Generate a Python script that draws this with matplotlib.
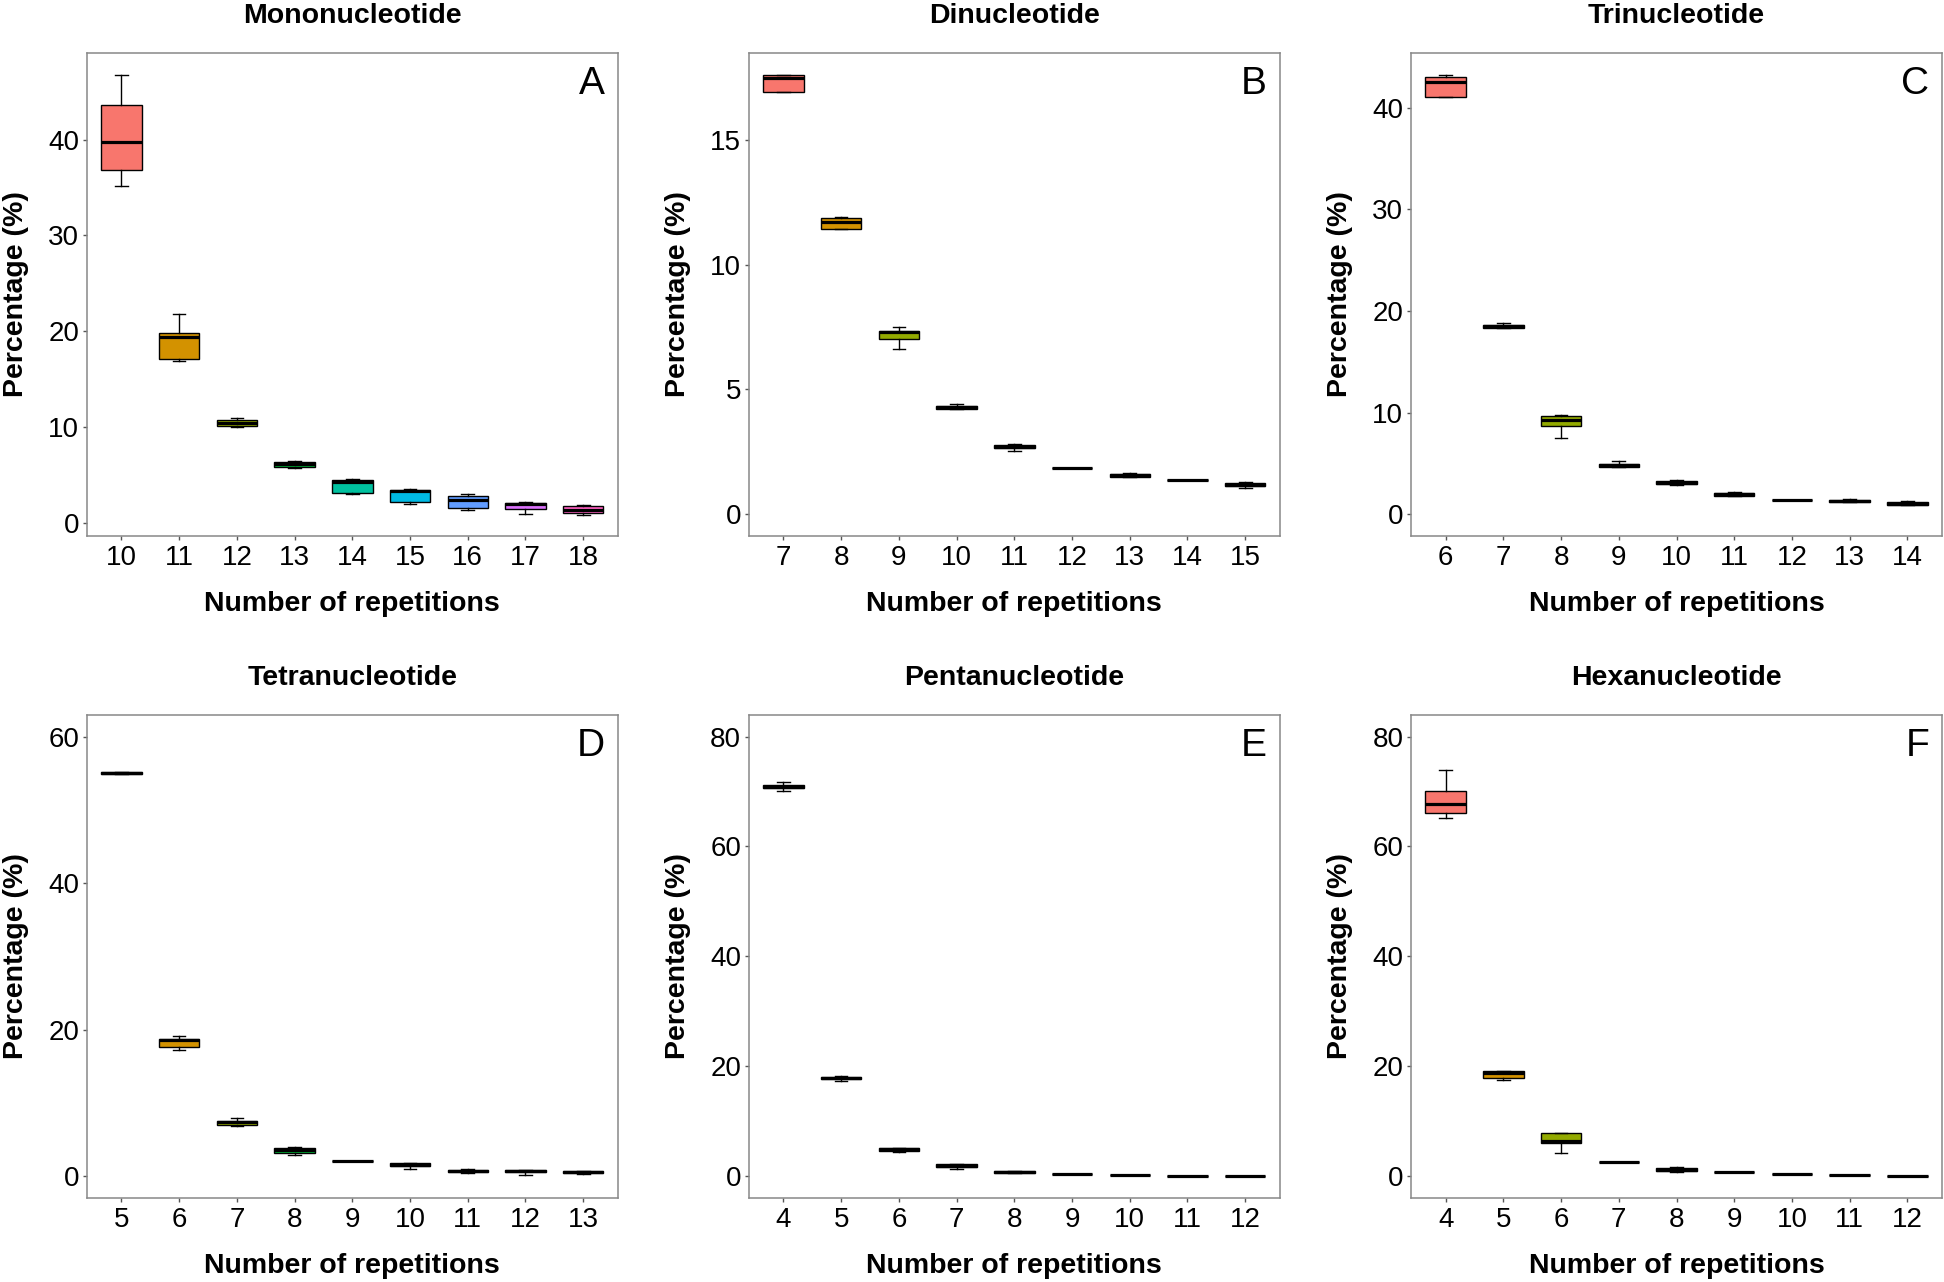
import matplotlib
matplotlib.use("Agg")
import matplotlib.pyplot as plt

plt.rcParams['font.family'] = ['Liberation Sans', 'DejaVu Sans']

# ggplot hue palette, 9 levels
box_colors = ["#F8766D", "#D39200", "#93AA00", "#00BA38", "#00C19F",
              "#00B9E3", "#619CFF", "#DB72FB", "#FF61C3"]

# A - Mononucleotide
mono_reps = [10, 11, 12, 13, 14, 15, 16, 17, 18]
mono_lo = [35.2, 16.9, 10.0, 5.8, 3.0, 2.0, 1.4, 1.0, 0.8]
mono_q1 = [36.8, 17.1, 10.1, 5.9, 3.1, 2.2, 1.6, 1.45, 1.1]
mono_med = [39.8, 19.4, 10.4, 6.15, 4.3, 3.4, 2.4, 1.95, 1.35]
mono_q3 = [43.6, 19.8, 10.8, 6.4, 4.5, 3.5, 2.8, 2.15, 1.75]
mono_hi = [46.7, 21.8, 11.0, 6.5, 4.65, 3.6, 3.0, 2.25, 1.85]

# B - Dinucleotide
di_reps = [7, 8, 9, 10, 11, 12, 13, 14, 15]
di_lo = [16.93, 11.46, 6.6, 4.21, 2.53, 1.83, 1.47, 1.34, 1.04]
di_q1 = [16.93, 11.46, 7.02, 4.21, 2.65, 1.83, 1.47, 1.34, 1.10]
di_med = [17.49, 11.74, 7.3, 4.28, 2.70, 1.83, 1.54, 1.34, 1.16]
di_q3 = [17.63, 11.89, 7.34, 4.33, 2.75, 1.83, 1.58, 1.34, 1.22]
di_hi = [17.63, 11.94, 7.5, 4.41, 2.82, 1.83, 1.62, 1.34, 1.26]

# C - Trinucleotide
tri_reps = [6, 7, 8, 9, 10, 11, 12, 13, 14]
tri_lo = [41.05, 18.3, 7.5, 4.62, 2.85, 1.8, 1.44, 1.18, 0.88]
tri_q1 = [41.05, 18.3, 8.64, 4.62, 2.98, 1.8, 1.44, 1.18, 0.88]
tri_med = [42.49, 18.5, 9.3, 4.84, 3.11, 1.96, 1.44, 1.34, 1.05]
tri_q3 = [43.04, 18.66, 9.66, 4.98, 3.24, 2.13, 1.44, 1.44, 1.18]
tri_hi = [43.24, 18.8, 9.72, 5.24, 3.34, 2.16, 1.44, 1.5, 1.31]

# D - Tetranucleotide
tetra_reps = [5, 6, 7, 8, 9, 10, 11, 12, 13]
tetra_lo = [54.85, 17.25, 6.88, 2.93, 2.02, 0.91, 0.40, 0.20, 0.30]
tetra_q1 = [54.9, 17.6, 6.98, 3.14, 2.02, 1.37, 0.56, 0.56, 0.46]
tetra_med = [55.03, 18.56, 7.33, 3.54, 2.02, 1.57, 0.71, 0.71, 0.61]
tetra_q3 = [55.15, 18.77, 7.59, 3.79, 2.02, 1.72, 0.86, 0.81, 0.71]
tetra_hi = [55.2, 19.1, 7.94, 4.0, 2.02, 1.72, 0.91, 0.86, 0.76]

# E - Pentanucleotide
penta_reps = [4, 5, 6, 7, 8, 9, 10, 11, 12]
penta_lo = [70.15, 17.27, 4.45, 1.28, 0.61, 0.40, 0.20, 0.07, 0.07]
penta_q1 = [70.56, 17.67, 4.65, 1.62, 0.61, 0.40, 0.20, 0.07, 0.07]
penta_med = [70.9, 17.88, 4.92, 1.89, 0.74, 0.40, 0.20, 0.07, 0.07]
penta_q3 = [71.23, 18.15, 5.13, 2.16, 0.87, 0.40, 0.20, 0.07, 0.07]
penta_hi = [71.77, 18.28, 5.19, 2.29, 0.94, 0.40, 0.20, 0.07, 0.07]

# F - Hexanucleotide
hexa_reps = [4, 5, 6, 7, 8, 9, 10, 11, 12]
hexa_lo = [65.16, 17.54, 4.32, 2.63, 0.74, 0.74, 0.40, 0.20, 0.13]
hexa_q1 = [66.17, 17.88, 6.14, 2.63, 0.94, 0.74, 0.40, 0.20, 0.13]
hexa_med = [67.72, 18.82, 6.41, 2.63, 1.21, 0.74, 0.40, 0.20, 0.13]
hexa_q3 = [70.15, 19.09, 7.82, 2.63, 1.55, 0.74, 0.40, 0.20, 0.13]
hexa_hi = [73.9, 19.22, 7.96, 2.63, 1.75, 0.74, 0.40, 0.20, 0.13]

panels = [
    ("Mononucleotide", "A", mono_reps, mono_lo, mono_q1, mono_med, mono_q3, mono_hi,
     [0, 10, 20, 30, 40], (-1.3, 49.0)),
    ("Dinucleotide", "B", di_reps, di_lo, di_q1, di_med, di_q3, di_hi,
     [0, 5, 10, 15], (-0.88, 18.5)),
    ("Trinucleotide", "C", tri_reps, tri_lo, tri_q1, tri_med, tri_q3, tri_hi,
     [0, 10, 20, 30, 40], (-2.1, 45.35)),
    ("Tetranucleotide", "D", tetra_reps, tetra_lo, tetra_q1, tetra_med, tetra_q3, tetra_hi,
     [0, 20, 40, 60], (-2.95, 62.9)),
    ("Pentanucleotide", "E", penta_reps, penta_lo, penta_q1, penta_med, penta_q3, penta_hi,
     [0, 20, 40, 60, 80], (-3.9, 83.85)),
    ("Hexanucleotide", "F", hexa_reps, hexa_lo, hexa_q1, hexa_med, hexa_q3, hexa_hi,
     [0, 20, 40, 60, 80], (-3.9, 83.85)),
]

W, H = 1944, 1282
fig = plt.figure(figsize=(W / 100, H / 100), dpi=100)

lefts = [86.8, 748.8, 1411.0]
tops = [53.3, 715.4]
ax_w, ax_h = 531.0, 482.3

spine_col = "#888888"

for i, (title, letter, reps, lo, q1, med, q3, hi, yticks, ylim) in enumerate(panels):
    r, c = divmod(i, 3)
    ax = fig.add_axes([lefts[c] / W, 1 - (tops[r] + ax_h) / H, ax_w / W, ax_h / H])
    pos = list(range(1, len(reps) + 1))
    stats = [dict(whislo=lo[k], q1=q1[k], med=med[k], q3=q3[k], whishi=hi[k])
             for k in range(len(reps))]
    bp = ax.bxp(stats, positions=pos, widths=0.7, patch_artist=True,
                showfliers=False, capwidths=0.22,
                boxprops=dict(edgecolor="black", linewidth=1.0),
                medianprops=dict(color="black", linewidth=2.3, solid_capstyle="butt"),
                whiskerprops=dict(color="black", linewidth=1.0),
                capprops=dict(color="black", linewidth=1.0))
    for patch, col in zip(bp["boxes"], box_colors):
        patch.set_facecolor(col)

    ax.set_xlim(0.4, len(reps) + 0.6)
    ax.set_ylim(*ylim)
    ax.set_xticks(pos, labels=[str(v) for v in reps])
    ax.set_yticks(yticks)
    ax.tick_params(axis="both", direction="out", length=3, width=1,
                   color="#555555", labelsize=20, labelcolor="black")
    ax.tick_params(axis="x", pad=4)
    ax.tick_params(axis="y", pad=2.5)
    for s in ax.spines.values():
        s.set_color(spine_col)
        s.set_linewidth(1.1)

    ax.set_title(title, fontsize=20.5, fontweight="bold", pad=22)
    ax.set_xlabel("Number of repetitions", fontsize=20.5, fontweight="bold", labelpad=14)
    ax.set_ylabel("Percentage (%)", fontsize=20.5, fontweight="bold", labelpad=14)
    ax.text(0.976, 0.974, letter, transform=ax.transAxes, ha="right", va="top",
            fontsize=28)

fig.savefig("out.png", dpi=100)
